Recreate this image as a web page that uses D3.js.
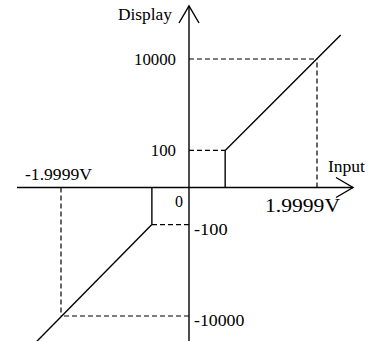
<!DOCTYPE html>
<html>
<head>
<meta charset="utf-8">
<script src="https://cdn.jsdelivr.net/npm/d3@7"></script>
<style>
  html, body { margin: 0; padding: 0; background: #fff; }
  text { font-family: "Liberation Serif", "Times New Roman", serif; fill: #000; }
</style>
</head>
<body>
<div id="chart"></div>
<script>
// Transfer curve data (input volts -> display counts)
const posSegment = [[0.565, 100], [2.37, 32000]];
const negSegment = [[-0.58, -100], [-2.39, -35500]];
const posStep = [[0.565, 0], [0.565, 100]];
const negStep = [[-0.58, 0], [-0.58, -100]];
const inputLimits = [-1.9999, 1.9999];
const displayTicks = [10000, 100, -100, -10000];
const displayLabels = ["10000", "100", "-100", "-10000"];
const inputLabels = ["-1.9999V", "1.9999V"];

const width = 369;
const height = 341;

const svg = d3.select("#chart")
  .append("svg")
    .attr("width", width)
    .attr("height", height);

// Scales (display axis is schematic, so a symlog keeps 100 and 10000 both visible)
const x = d3.scaleLinear()
  .domain(inputLimits)
  .range([61, 317]);

const y = d3.scaleSymlog()
  .constant(20)
  .domain([-10000, 10000])
  .range([316, 59]);

const x0 = x(0);
const y0 = y(0);

// Axes with open arrow heads
svg.append("line")
  .attr("x1", 17).attr("x2", 353)
  .attr("y1", y0).attr("y2", y0)
  .attr("stroke", "#000").attr("stroke-width", 1.4);
svg.append("polyline")
  .attr("points", `336,${y0 - 10} 353,${y0} 336,${y0 + 10}`)
  .attr("fill", "none").attr("stroke", "#000").attr("stroke-width", 1.4);

svg.append("line")
  .attr("x1", x0).attr("x2", x0)
  .attr("y1", 6).attr("y2", height)
  .attr("stroke", "#000").attr("stroke-width", 1.4);
svg.append("polyline")
  .attr("points", `${x0 - 10},23 ${x0},6 ${x0 + 10},23`)
  .attr("fill", "none").attr("stroke", "#000").attr("stroke-width", 1.4);

// Dashed guides
const dash = "5,3";
const guides = [
  // horizontal from y axis to the curve
  [[0, 10000], [inputLimits[1], 10000]],
  [[0, 100], [posStep[0][0], 100]],
  [[0, -100], [negStep[0][0], -100]],
  [[0, -10000], [inputLimits[0], -10000]],
  // vertical from x axis to the curve
  [[inputLimits[1], 0], [inputLimits[1], 10000]],
  [[inputLimits[0], 0], [inputLimits[0], -10000]]
];
const line = d3.line().x(d => x(d[0])).y(d => y(d[1]));

svg.selectAll(".guide")
  .data(guides)
  .join("path")
    .attr("class", "guide")
    .attr("d", line)
    .attr("fill", "none")
    .attr("stroke", "#000")
    .attr("stroke-width", 1.2)
    .attr("stroke-dasharray", dash);

// Solid curve pieces
svg.selectAll(".curve")
  .data([posSegment, negSegment, posStep, negStep])
  .join("path")
    .attr("class", "curve")
    .attr("d", line)
    .attr("fill", "none")
    .attr("stroke", "#000")
    .attr("stroke-width", 1.4);

// Display tick labels
displayTicks.forEach((v, i) => {
  const label = displayLabels[i];
  const t = svg.append("text")
    .text(label)
    .attr("font-size", 16)
    .attr("lengthAdjust", "spacingAndGlyphs")
    .attr("textLength", label.length * 8.4);
  if (v > 0) {
    t.attr("x", x0 - 13).attr("y", y(v) + 6).attr("text-anchor", "end");
  } else {
    t.attr("x", x0 + 5).attr("y", y(v) + 10);
  }
});

// Axis titles and other labels
svg.append("text").text("Display")
  .attr("x", 118).attr("y", 20)
  .attr("font-size", 16)
  .attr("lengthAdjust", "spacingAndGlyphs").attr("textLength", 54);

svg.append("text").text("Input")
  .attr("x", 328).attr("y", 172)
  .attr("font-size", 16)
  .attr("lengthAdjust", "spacingAndGlyphs").attr("textLength", 37);

svg.append("text").text(inputLabels[0])
  .attr("x", 25).attr("y", y0 - 8)
  .attr("font-size", 17)
  .attr("lengthAdjust", "spacingAndGlyphs").attr("textLength", 67);

svg.append("text").text(inputLabels[1])
  .attr("x", 265).attr("y", y0 + 24)
  .attr("font-size", 19)
  .attr("lengthAdjust", "spacingAndGlyphs").attr("textLength", 75);

svg.append("text").text("0")
  .attr("x", 175).attr("y", y0 + 19)
  .attr("font-size", 16);
</script>
</body>
</html>
